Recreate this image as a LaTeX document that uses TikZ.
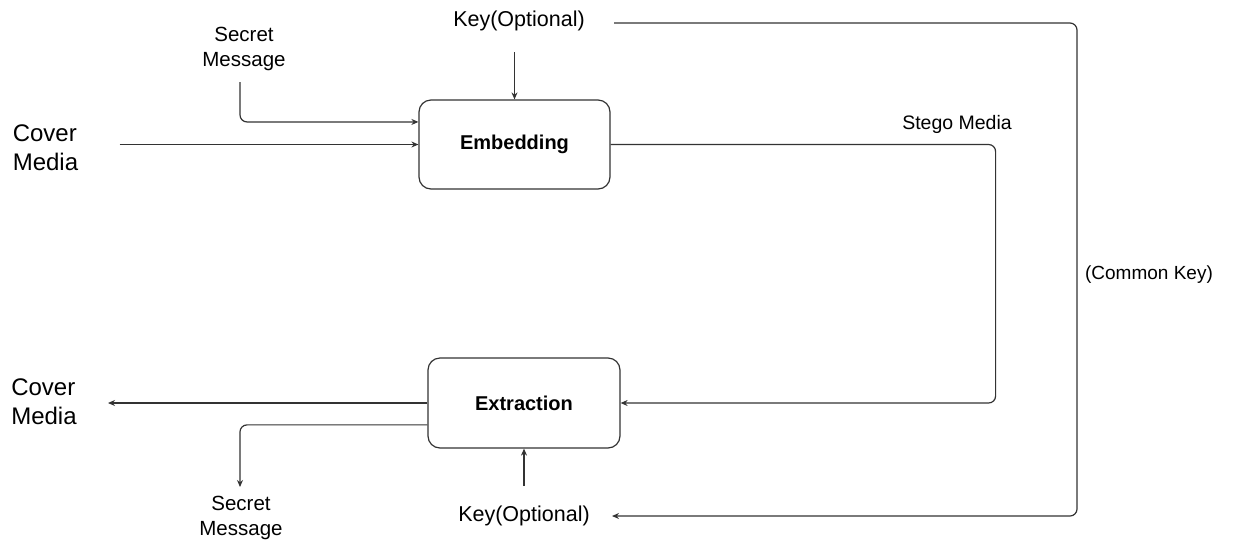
\documentclass[tikz,border=0pt]{standalone}
\usepackage{fontspec}
\setmainfont{Liberation Sans}
\usetikzlibrary{arrows.meta,calc}
\definecolor{ln}{HTML}{333333}
\begin{document}
\begin{tikzpicture}[x=1pt,y=-1pt,
  box/.style={draw=ln,line width=1.2pt,rounded corners=12pt,minimum width=191pt,minimum height=89pt,font=\fontsize{20}{24}\selectfont\bfseries},
  lbl/.style={align=center,font=\fontsize{20.5}{25}\selectfont,inner sep=2pt},
  key/.style={align=center,font=\fontsize{21.5}{26}\selectfont,inner sep=2pt},
  big/.style={align=left,font=\fontsize{24}{29}\selectfont,inner sep=2pt},
  conn/.style={draw=ln,line width=1.2pt,rounded corners=7pt,-{Stealth[length=7pt,width=6pt]}}]
\useasboundingbox (0,0) rectangle (1253,542);
\node[box] (emb) at (514.5,144.5) {Embedding};
\node[box,minimum width=192pt,minimum height=90pt] (ext) at (524,403) {Extraction};
\node[big] (cm1) at (45.5,148) {Cover\\Media};
\node[lbl] (sm1) at (244,49) {Secret\\Message};
\node[key] (k1) at (519,21) {Key(Optional)};
\node[lbl,font=\fontsize{19.5}{24}\selectfont] (sg) at (957,124) {Stego Media};
\node[lbl,font=\fontsize{19}{24}\selectfont] (ck) at (1149,275) {(Common Key)};
\node[big] (cm2) at (44,402) {Cover\\Media};
\node[lbl] (sm2) at (241,518) {Secret\\Message};
\node[key] (k2) at (524,516) {Key(Optional)};
\coordinate (k1s) at ($(k1.center)+(0,31)$);
% embedding inputs
\draw[conn] ([xshift=74pt]cm1.center |- emb.west) -- (emb.west);
\draw[conn] ($(sm1.center)+(-4,33)$) |- ($(emb.north west)!0.25!(emb.south west)$);
\draw[conn] (k1s -| emb.north) -- (emb.north);
% common key
\draw[conn] ($(k1.center)+(95,2)$) -- ++(463,0) |- ($(k2.center)+(88,0)$);
% stego media
\draw[conn] (emb.east) -- ++(385,0) |- (ext.east);
% extraction outputs
\draw[conn] (ext.west) -- ([xshift=64pt]cm2.center |- ext.west);
\draw[conn] ($(ext.north west)!0.74!(ext.south west)$) -| ($(sm2.center)+(-1,-31)$);
\draw[conn] ($(k2.center)+(0,-30)$) -- (ext.south);
\end{tikzpicture}
\end{document}
